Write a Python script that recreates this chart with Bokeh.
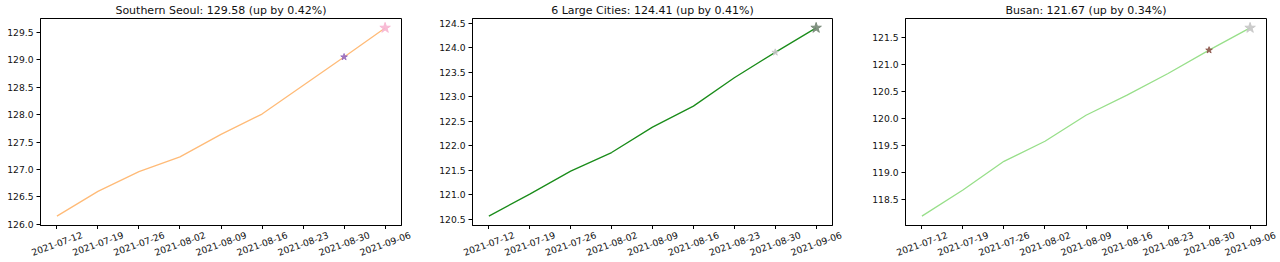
import math
import numpy as np
from bokeh.plotting import figure
from bokeh.layouts import row, column
from bokeh.models import (Range1d, FixedTicker, DatetimeTickFormatter, DatetimeAxis,
                          NumeralTickFormatter, SingleIntervalTicker)
from bokeh.embed import file_html
from bokeh.resources import INLINE

# ---------------- data ----------------
dates = ["2021-07-12", "2021-07-19", "2021-07-26", "2021-08-02", "2021-08-09",
         "2021-08-16", "2021-08-23", "2021-08-30", "2021-09-06"]
southern_seoul = [126.15, 126.60, 126.96, 127.23, 127.64, 128.01, 128.53, 129.05, 129.58]
six_large_cities = [120.56, 121.01, 121.48, 121.86, 122.38, 122.81, 123.39, 123.91, 124.41]
busan = [118.20, 118.68, 119.21, 119.58, 120.06, 120.43, 120.83, 121.26, 121.67]
titles = ["Southern Seoul: 129.58 (up by 0.42%)",
          "6 Large Cities: 124.41 (up by 0.41%)",
          "Busan: 121.67 (up by 0.34%)"]
series = [southern_seoul, six_large_cities, busan]

# ---------------- styles ----------------
line_colors = ["#ffbb78", "#1a8c1a", "#98df8a"]
prev_star_colors = ["#9467bd", "#c7c7c7", "#8c564b"]
last_star_colors = ["#f7b6d2", "#778877", "#c7c7c7"]
FONT = "DejaVu Sans"
TICK_FS = 9.2
TEXT_COLOR = "#111111"
frame_widths = [361, 360, 361]
right_borders = [31, 33, 14]
EXTRA_PX = 12          # label strip extends a little past the plot frame
TICK_LEN = 4

x_ms = [float(np.datetime64(d, "ms").astype(np.int64)) for d in dates]
span = x_ms[-1] - x_ms[0]
x0, x1 = x_ms[0] - 0.05 * span, x_ms[-1] + 0.05 * span

fmt = "%Y-%m-%d"
def make_formatter():
    return DatetimeTickFormatter(microseconds=fmt, milliseconds=fmt, seconds=fmt, minsec=fmt,
                                 minutes=fmt, hourmin=fmt, hours=fmt, days=fmt,
                                 months=fmt, years=fmt)

angle = math.radians(20)
label_w_px = 5.81 * TICK_FS
# Bokeh right-aligns rotated labels at the tick; shift so they are centred (matplotlib style)
shift_px = 0.5 * label_w_px * math.cos(angle)

cols = []
for i, vals in enumerate(series):
    fw = frame_widths[i]
    lo, hi = min(vals), max(vals)
    yr = hi - lo
    p = figure(x_axis_type="datetime", frame_width=fw, frame_height=207,
               min_border_left=40, min_border_right=right_borders[i],
               min_border_top=17, min_border_bottom=TICK_LEN,
               x_range=Range1d(x0, x1), y_range=Range1d(lo - 0.05 * yr, hi + 0.05 * yr),
               output_backend="svg", toolbar_location=None,
               background_fill_color="white", border_fill_color="white")
    p.title.text = titles[i]
    p.title.align = "center"
    p.title.text_font = FONT
    p.title.text_font_size = "11px"
    p.title.text_font_style = "normal"
    p.title.text_color = TEXT_COLOR
    p.title.standoff = 3
    p.xgrid.visible = False
    p.ygrid.visible = False
    p.outline_line_color = "black"
    p.outline_line_alpha = 1.0
    p.outline_line_width = 1

    # x axis of the plot: tick marks only
    xa = p.xaxis[0]
    xa.ticker = FixedTicker(ticks=x_ms)
    xa.formatter = make_formatter()
    xa.major_tick_out = TICK_LEN
    xa.major_tick_in = 0
    xa.minor_tick_line_color = None
    xa.major_label_text_color = None
    xa.major_label_standoff = 0
    xa.axis_line_color = "black"

    ya = p.yaxis[0]
    ya.ticker = SingleIntervalTicker(interval=0.5, num_minor_ticks=0)
    ya.formatter = NumeralTickFormatter(format="0.0")
    ya.major_tick_out = TICK_LEN
    ya.major_tick_in = 0
    ya.minor_tick_line_color = None
    ya.major_label_standoff = 3
    ya.major_label_text_font = FONT
    ya.major_label_text_font_size = f"{TICK_FS}px"
    ya.major_label_text_color = TEXT_COLOR
    ya.axis_line_color = "black"

    p.line(x_ms, vals, line_color=line_colors[i], line_width=1.3)
    p.scatter([x_ms[-2]], [vals[-2]], marker="star", size=7,
              fill_color=prev_star_colors[i], line_color=prev_star_colors[i], alpha=0.85)
    p.scatter([x_ms[-1]], [vals[-1]], marker="star", size=11,
              fill_color=last_star_colors[i], line_color=last_star_colors[i], alpha=0.9)

    # label strip: same time scale as the plot, shifted so the labels are centred on ticks
    ms_per_px = (x1 - x0) / fw
    d = shift_px * ms_per_px
    s = figure(x_axis_type=None, y_axis_type=None, frame_width=fw + EXTRA_PX, frame_height=1,
               min_border_left=40, min_border_right=right_borders[i] - EXTRA_PX,
               min_border_top=0, min_border_bottom=30,
               x_range=Range1d(x0 - d, x1 + EXTRA_PX * ms_per_px - d), y_range=Range1d(0, 1),
               output_backend="svg", toolbar_location=None,
               background_fill_color="white", border_fill_color="white")
    s.outline_line_color = None
    la = DatetimeAxis(ticker=FixedTicker(ticks=x_ms), formatter=make_formatter())
    la.axis_line_color = None
    la.major_tick_line_color = None
    la.minor_tick_line_color = None
    la.major_tick_out = 0
    la.major_tick_in = 0
    la.major_label_standoff = 4
    la.major_label_orientation = angle
    la.major_label_text_font = FONT
    la.major_label_text_font_size = f"{TICK_FS}px"
    la.major_label_text_color = TEXT_COLOR
    s.add_layout(la, "below")

    cols.append(column(p, s, spacing=0))

layout = row(*cols, spacing=0)
open("out.html", "w").write(file_html(layout, INLINE))
